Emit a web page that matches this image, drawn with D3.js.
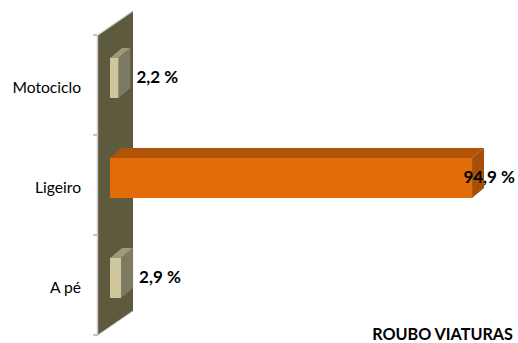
<!DOCTYPE html>
<html><head><meta charset="utf-8">
<script src="https://cdn.jsdelivr.net/npm/d3@7"></script>
<style>
html,body{margin:0;padding:0;background:#fff;}
svg{display:block;}
</style></head>
<body>
<svg id="chart" width="518" height="343"></svg>
<script>
const categories = ["Motociclo", "Ligeiro", "A pé"];
const values = [2.2, 94.9, 2.9];
const valueLabels = ["2,2 %", "94,9 %", "2,9 %"];
const title = "ROUBO VIATURAS";

const svg = d3.select("#chart");
const FONT = "Lato, 'Open Sans', sans-serif";

const x = d3.scaleLinear().domain([0, 100]).range([110, 491.5]);
const y = d3.scaleBand().domain(categories).range([35, 335]);

// 3D depth
const dx = 12, dy = -10;
const wallDx = 35, wallDy = -24;
const wallX = 98;

// back wall (parallelogram)
const [y0, y1] = y.range();
svg.append("polygon")
  .attr("points", [[wallX, y0], [wallX + wallDx, y0 + wallDy], [wallX + wallDx, y1 + wallDy], [wallX, y1]].join(" "))
  .attr("fill", "#5e5a3d");
svg.append("line")
  .attr("x1", wallX).attr("y1", y0).attr("x2", wallX + wallDx).attr("y2", y0 + wallDy)
  .attr("stroke", "#c8c8c8").attr("stroke-width", 1.2);
svg.append("line")
  .attr("x1", wallX - 0.5).attr("y1", y0).attr("x2", wallX - 0.5).attr("y2", y1 + 1)
  .attr("stroke", "#c8c8c8").attr("stroke-width", 1.5);
svg.append("line")
  .attr("x1", wallX).attr("y1", y1).attr("x2", wallX + wallDx).attr("y2", y1 + wallDy)
  .attr("stroke", "#d0d0d0").attr("stroke-width", 1);

// axis ticks at band boundaries
const boundaries = categories.map(c => y(c)).concat([y1]);
svg.selectAll("line.tick").data(boundaries).join("line")
  .attr("class", "tick")
  .attr("x1", wallX - 5).attr("x2", wallX - 1)
  .attr("y1", d => d).attr("y2", d => d)
  .attr("stroke", "#8c8c8c").attr("stroke-width", 1);

// category labels
svg.selectAll("text.cat").data(categories).join("text")
  .attr("class", "cat")
  .attr("x", 81)
  .attr("y", d => y(d) + y.bandwidth() / 2 + 1.5)
  .attr("text-anchor", "end")
  .attr("dominant-baseline", "central")
  .attr("font-family", FONT).attr("font-size", 15.6)
  .attr("fill", "#000")
  .text(d => d);

// bars
const colors = {
  "Motociclo": { front: "#cec69c", top: "#9d997f", side: "#7e7a61" },
  "Ligeiro":   { front: "#e36c0a", top: "#b25408", side: "#a54f08" },
  "A pé":      { front: "#cec69c", top: "#9d997f", side: "#7e7a61" }
};
const barH = 40, barOff = 23;
const data = categories.map((c, i) => ({ c, v: values[i], label: valueLabels[i] }));

const g = svg.append("g");
data.forEach(d => {
  const x0 = x(0), x1 = x(d.v);
  const top = y(d.c) + barOff;
  const col = colors[d.c];
  g.append("polygon")
    .attr("points", [[x0, top], [x0 + dx, top + dy], [x1 + dx, top + dy], [x1, top]].join(" "))
    .attr("fill", col.top);
  g.append("polygon")
    .attr("points", [[x1, top], [x1 + dx, top + dy], [x1 + dx, top + barH + dy], [x1, top + barH]].join(" "))
    .attr("fill", col.side);
  g.append("rect")
    .attr("x", x0).attr("y", top)
    .attr("width", x1 - x0).attr("height", barH)
    .attr("fill", col.front);
});

// value labels
svg.selectAll("text.val").data(data).join("text")
  .attr("class", "val")
  .attr("x", d => d.v > 50 ? 515 : x(d.v) + dx + 6)
  .attr("y", d => y(d.c) + y.bandwidth() / 2 - 9)
  .attr("text-anchor", d => d.v > 50 ? "end" : "start")
  .attr("dominant-baseline", "central")
  .attr("font-family", FONT).attr("font-weight", "bold").attr("font-size", 17)
  .attr("fill", "#000")
  .text(d => d.label);

// title
svg.append("text")
  .attr("x", 513).attr("y", 333)
  .attr("text-anchor", "end")
  .attr("dominant-baseline", "central")
  .attr("font-family", FONT).attr("font-weight", "bold").attr("font-size", 16.2)
  .attr("fill", "#000")
  .text(title);
</script>
</body></html>
